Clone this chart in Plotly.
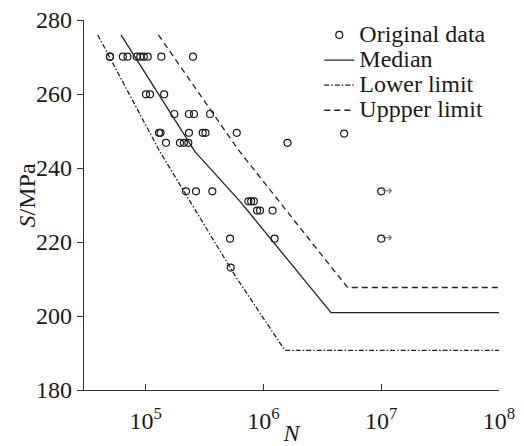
import plotly.graph_objects as go

# ---------------- data ----------------
orig_N = [4.97e4, 4.97e4, 6.40e4, 7.00e4, 8.39e4, 9.00e4, 9.63e4, 1.04e5, 1.357e5, 2.52e5,
          1.006e5, 1.088e5, 1.435e5,
          1.75e5, 2.33e5, 2.57e5, 3.52e5,
          1.297e5, 1.336e5, 2.33e5, 3.05e5, 3.22e5, 5.93e5, 4.84e6,
          1.487e5, 1.954e5, 2.11e5, 2.30e5, 1.60e6,
          2.20e5, 2.67e5, 3.68e5, 1.0e7,
          7.45e5, 7.86e5, 8.28e5,
          8.83e5, 9.35e5, 1.194e6,
          5.20e5, 1.242e6, 1.0e7,
          5.27e5]
orig_S = [270.1, 270.1, 270.1, 270.1, 270.1, 270.1, 270.1, 270.1, 270.1, 270.1,
          259.9, 259.9, 259.9,
          254.6, 254.6, 254.6, 254.6,
          249.5, 249.5, 249.5, 249.5, 249.5, 249.5, 249.3,
          246.8, 246.8, 246.8, 246.8, 246.8,
          233.7, 233.7, 233.7, 233.7,
          231.0, 231.0, 231.0,
          228.5, 228.5, 228.5,
          220.9, 220.9, 220.9,
          213.1]

runout_N = [1.0e7, 1.0e7]
runout_S = [233.7, 220.9]

median_N = [6.17e4, 2.62e5, 6.32e5, 2.05e6, 3.75e6, 1.0e8]
median_S = [276.0, 244.4, 231.0, 210.9, 200.9, 200.9]

lower_N = [3.91e4, 1.32e5, 5.74e5, 1.52e6, 1.0e8]
lower_S = [276.0, 244.4, 210.9, 190.7, 190.7]

upper_N = [1.28e5, 6.12e5, 4.20e6, 5.20e6, 1.0e8]
upper_S = [276.0, 244.9, 211.3, 207.7, 207.7]

x_tickvals = [1e5, 1e6, 1e7, 1e8]
x_ticktext = ["10<sup>5</sup>", "10<sup>6</sup>", "10<sup>7</sup>", "10<sup>8</sup>"]
y_tickvals = [180, 200, 220, 240, 260, 280]

legend_names = ["Original data", "Median", "Lower limit", "Uppper limit"]
x_title = "<i>N</i>"
y_title = "<i>S</i>/MPa"

FONT = "'Liberation Serif', 'Times New Roman', serif"
INK = "#1a1a1a"
LINE = "#222222"
AX = "#333333"
FS = 24


def big(t):
    return '<span style="font-size:%dpx">%s</span>' % (FS, t)


fig = go.Figure()
fig.add_trace(go.Scatter(
    x=orig_N, y=orig_S, mode="markers", name=big(legend_names[0]),
    marker=dict(symbol="circle-open", size=7, color=INK, line=dict(width=1.2, color=INK)),
))
fig.add_trace(go.Scatter(
    x=median_N, y=median_S, mode="lines", name=big(legend_names[1]),
    line=dict(color=LINE, width=1.3),
))
fig.add_trace(go.Scatter(
    x=lower_N, y=lower_S, mode="lines", name=big(legend_names[2]),
    line=dict(color=LINE, width=1.3, dash="5px,2px,1.5px,2px"),
))
fig.add_trace(go.Scatter(
    x=upper_N, y=upper_S, mode="lines", name=big(legend_names[3]),
    line=dict(color=LINE, width=1.3, dash="6px,4px"),
))
# run-out arrows next to the points at 10^7
fig.add_trace(go.Scatter(
    x=runout_N, y=runout_S, mode="text", text=["\u2192"] * len(runout_N),
    textposition="middle right", showlegend=False, hoverinfo="skip",
    textfont=dict(family="DejaVu Sans", size=13, color="#707070"),
))

# y-axis title placed as an annotation (sits slightly above the axis middle)
fig.add_annotation(text=y_title, xref="paper", yref="paper", x=-0.138, y=0.525,
                   textangle=-90, showarrow=False, xanchor="center", yanchor="middle",
                   font=dict(family=FONT, size=FS, color=INK))

# The page body adds an 8 px offset, so the figure is 8 px smaller.
fig.update_layout(
    template="none",
    width=516, height=438,
    margin=dict(l=76, r=25, t=9, b=56),
    paper_bgcolor="white", plot_bgcolor="white",
    font=dict(family=FONT, size=FS, color=INK),
    showlegend=True,
    legend=dict(x=0.567, y=1.007, xanchor="left", yanchor="top",
                bgcolor="rgba(0,0,0,0)", borderwidth=0,
                font=dict(family=FONT, size=17, color=INK),
                tracegroupgap=0, itemwidth=30),
)
fig.update_xaxes(
    type="log", range=[4.476, 8.0], automargin=False,
    tickvals=x_tickvals, ticktext=x_ticktext,
    ticks="inside", ticklen=6, tickwidth=1.2, tickcolor=AX,
    showline=True, linecolor=AX, linewidth=1.2,
    showgrid=False, zeroline=False, mirror=False,
    ticklabelstandoff=9, ticklabeloverflow="allow",
    tickfont=dict(family=FONT, size=FS, color=INK),
    title=dict(text=x_title, font=dict(family=FONT, size=FS, color=INK), standoff=2),
)
fig.update_yaxes(
    range=[180, 280], tickvals=y_tickvals, automargin=False,
    ticks="outside", ticklen=6, tickwidth=1.2, tickcolor=AX,
    showline=True, linecolor=AX, linewidth=1.2,
    showgrid=False, zeroline=False, mirror=False,
    ticklabeloverflow="allow",
    tickfont=dict(family=FONT, size=FS, color=INK),
)

fig.write_html("out.html")
